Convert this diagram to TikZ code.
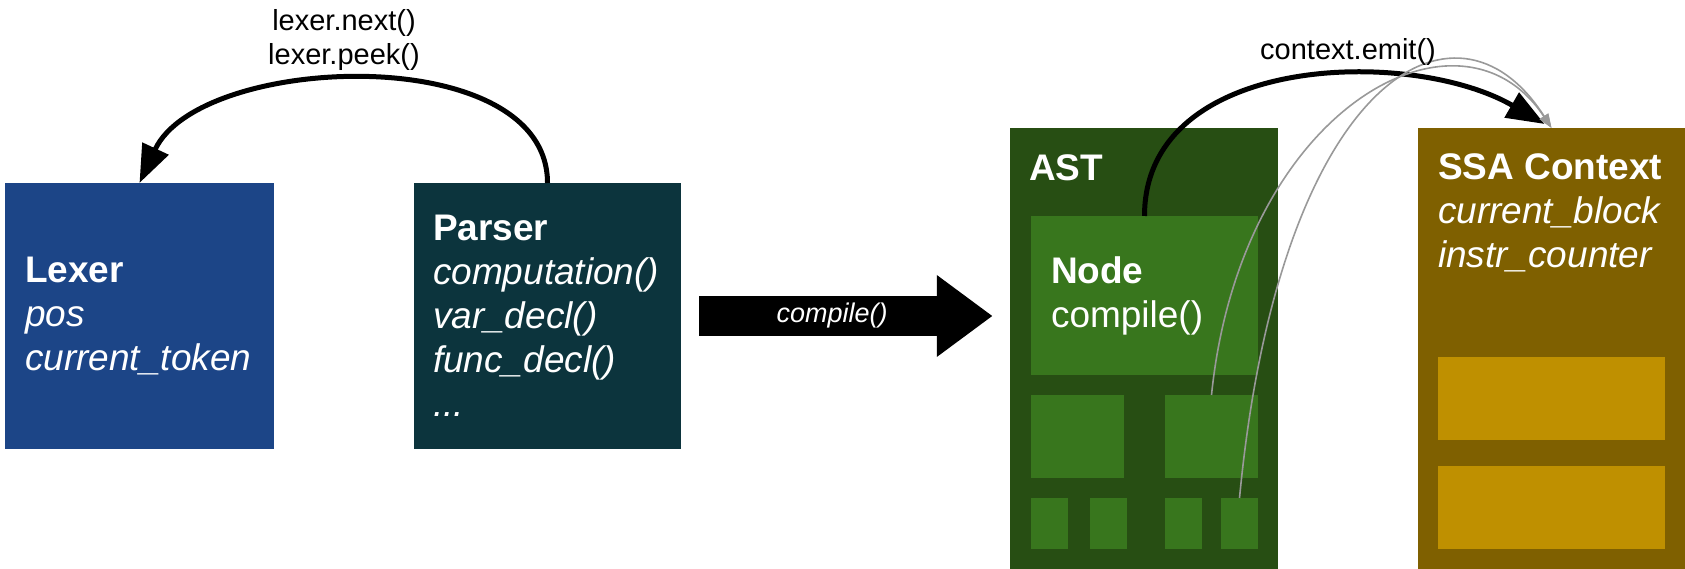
\documentclass[tikz,border=0pt]{standalone}
\usepackage{fontspec}
\setmainfont{Liberation Sans}
\usepackage{tikz}
\usetikzlibrary{arrows.meta, shapes.arrows}

\definecolor{lexerblue}{HTML}{1C4587}
\definecolor{parserteal}{HTML}{0C343D}
\definecolor{astgreen}{HTML}{274E13}
\definecolor{nodegreen}{HTML}{38761D}
\definecolor{ssabrown}{HTML}{7F6000}
\definecolor{ssagold}{HTML}{BF9000}
\definecolor{callgray}{HTML}{999999}

\begin{document}
\begin{tikzpicture}[x=1pt, y=1pt,
    box/.style={draw=none, inner sep=0pt, outer sep=0pt},
    classbox/.style={box, text=white, align=left, inner xsep=20pt,
        font=\fontsize{37}{44}\selectfont},
    bigcall/.style={-{Triangle[length=38pt, width=28pt]}, line width=5pt},
    smallcall/.style={-{Triangle[length=14pt, width=10pt]}, line width=1.6pt, draw=callgray},
    calltext/.style={font=\fontsize{29}{34}\selectfont, align=center}]
    \useasboundingbox (0,0) rectangle (1685,569);

    % --- Lexer と Parser ---
    \node[classbox, fill=lexerblue, minimum width=269pt, minimum height=266pt,
        text width=229pt] (lexer) at (139.5,253)
        {\textbf{Lexer}\\ \textit{pos}\\ \textit{current\_token}};
    \node[classbox, inner xsep=19pt, fill=parserteal, minimum width=267pt, minimum height=266pt,
        text width=229pt] (parser) at (547.5,253)
        {\textbf{Parser}\\ \textit{computation()}\\ \textit{var\_decl()}\\
         \textit{func\_decl()}\\ \textit{...}};

    % --- compile() の太矢印 ---
    \node[single arrow, fill=black, text=white, anchor=tail, inner sep=0pt,
        minimum height=293pt, minimum width=82pt,
        single arrow head extend=13.5pt, single arrow tip angle=73,
        font=\fontsize{27}{30}\selectfont\itshape] (compile) at (699,253) {compile()};

    % --- AST(子ノードは2段) ---
    \node[box, fill=astgreen, minimum width=268pt, minimum height=441pt] (ast) at (1144,220.5) {};
    \node[classbox, anchor=base west, inner xsep=0pt] (astlabel) at (1029,388) {\textbf{AST}};
    \node[classbox, fill=nodegreen, minimum width=227pt, minimum height=159pt,
        text width=187pt] (astnode) at (1144.5,273.5) {\textbf{Node}\\ compile()};
    \foreach \x/\n in {1077.5/1, 1211.5/2}
        \node[box, fill=nodegreen, minimum width=93pt, minimum height=83pt] (child\n) at (\x,132.5) {};
    \foreach \x/\n in {1049.5/1, 1108.5/2, 1183.5/3, 1239.5/4}
        \node[box, fill=nodegreen, minimum width=37pt, minimum height=51pt] (leaf\n) at (\x,45.5) {};

    % --- SSA Context ---
    \node[box, fill=ssabrown, minimum width=267pt, minimum height=441pt] (ssa) at (1551.5,220.5) {};
    \node[classbox, anchor=north west, inner xsep=0pt] (ssalabel) at (1438,415)
        {\textbf{SSA Context}\\ \textit{current\_block}\\ \textit{instr\_counter}};
    \foreach \y/\n in {170.5/1, 61.5/2}
        \node[box, fill=ssagold, minimum width=227pt, minimum height=83pt] (slot\n) at (1551.5,\y) {};

    % --- 呼び出しの弧 ---
    \draw[bigcall] (parser.north) to[out=90, in=65, looseness=0.9] (lexer.north);
    \node[calltext] (peeklabel) at (344,529) {lexer.next()\\lexer.peek()};

    \draw[bigcall, shorten >=8pt] (astnode.north) to[out=90, in=150] (ssa.north);
    % 子ノードからの emit(細い灰色)
    \draw[smallcall] (child2.north) .. controls +(29,286) and +(-92,139) .. (ssa.north);
    \draw[smallcall] (leaf4.north) .. controls +(40,420) and +(-95,150) .. (ssa.north);
    \node[calltext, anchor=base] (emitlabel) at (1348,509) {context.emit()};

\end{tikzpicture}
\end{document}
